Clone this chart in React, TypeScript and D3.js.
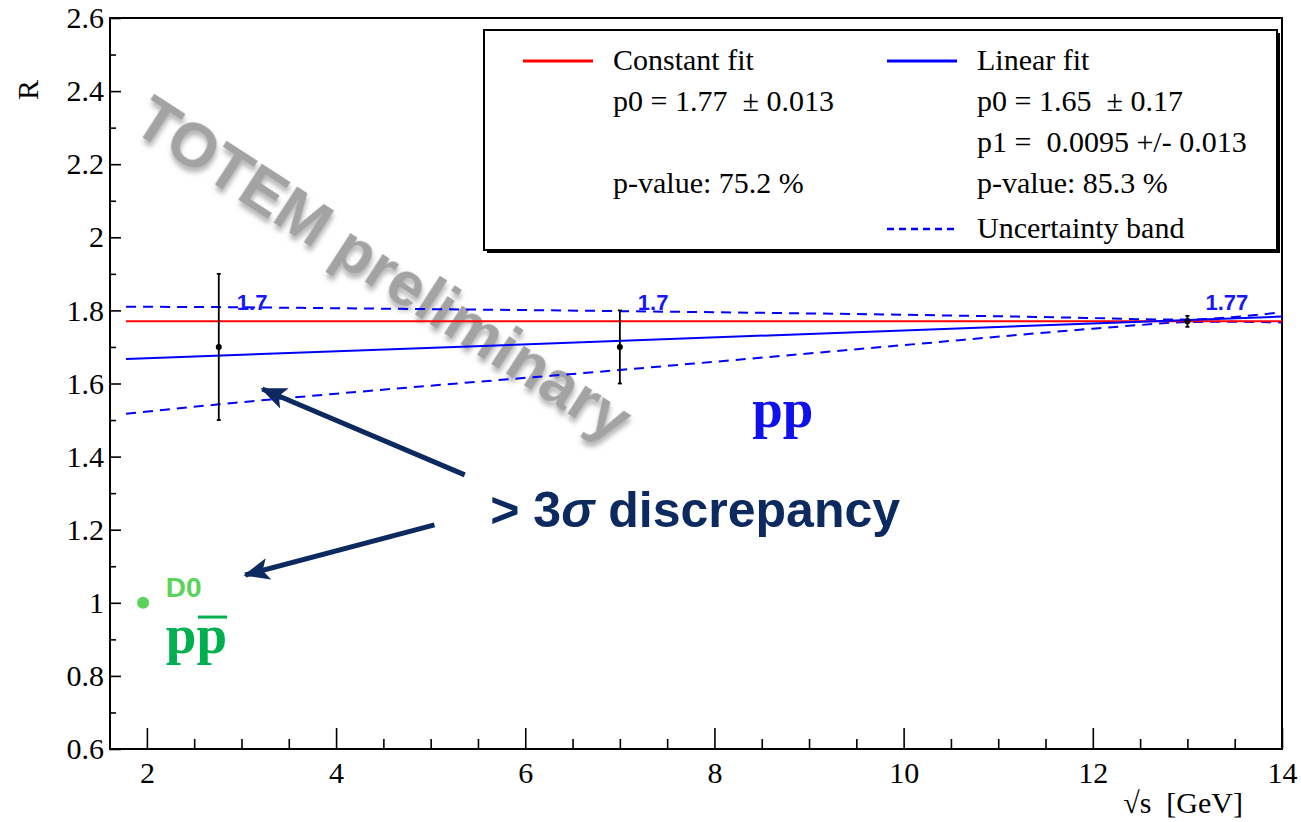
import React, { useEffect, useRef } from "react";
import * as d3 from "d3";

// measured points (sqrt(s) in TeV on the plot axis)
const energies = [2.76, 7, 13];
const ratios = [1.7, 1.7, 1.77];
const ratioErrors = [0.2, 0.1, 0.015];
const ratioLabels = ["1.7", "1.7", "1.77"];

const d0Energies = [1.96];
const d0Ratios = [1.0];

// fits
const fitEnergies = [1.78, 14];
const constantFit = [1.77, 1.77];
const linearFit = [1.667, 1.783];

// uncertainty band of the linear fit
const bandEnergies = [1.78, 2.76, 4, 7, 10, 12, 12.5, 13, 13.5, 14];
const bandUpper = [1.81, 1.809, 1.806, 1.798, 1.788, 1.779, 1.776, 1.775, 1.782, 1.795];
const bandLower = [1.517, 1.543, 1.572, 1.637, 1.705, 1.75, 1.76, 1.768, 1.769, 1.767];

const xTicks = [2, 4, 6, 8, 10, 12, 14];
const xTickLabels = ["2", "4", "6", "8", "10", "12", "14"];
const xMinorTicks = [2.5, 3, 3.5, 4.5, 5, 5.5, 6.5, 7, 7.5, 8.5, 9, 9.5, 10.5, 11, 11.5, 12.5, 13, 13.5];
const yTicks = [0.6, 0.8, 1, 1.2, 1.4, 1.6, 1.8, 2, 2.2, 2.4, 2.6];
const yTickLabels = ["0.6", "0.8", "1", "1.2", "1.4", "1.6", "1.8", "2", "2.2", "2.4", "2.6"];
const yMinorTicks = [0.7, 0.9, 1.1, 1.3, 1.5, 1.7, 1.9, 2.1, 2.3, 2.5];

const legendLeft = ["Constant fit", "p0 = 1.77  \u00b1 0.013", "", "p-value: 75.2 %"];
const legendRight = ["Linear fit", "p0 = 1.65  \u00b1 0.17", "p1 =  0.0095 +/- 0.013", "p-value: 85.3 %", "Uncertainty band"];

const W = 1301;
const H = 822;
const SERIF = "Liberation Serif, Times New Roman, DejaVu Serif, serif";
const SANS = "Liberation Sans, Arial, sans-serif";
const NAVY = "#0c2a60";

const App = () => {
  const ref = useRef<SVGSVGElement>(null);

  useEffect(() => {
    document.body.style.margin = "0";
    const svg = d3.select(ref.current);
    svg.selectAll("*").remove();

    const x = d3.scaleLinear().domain([1.61, 14]).range([110, 1282]);
    const y = d3.scaleLinear().domain([0.6, 2.6]).range([749, 18]);

    const defs = svg.append("defs");
    const shadow = defs.append("filter").attr("id", "wm").attr("x", "-20%").attr("y", "-20%").attr("width", "140%").attr("height", "140%");
    shadow.append("feDropShadow").attr("dx", 3).attr("dy", 4).attr("stdDeviation", 2.5).attr("flood-color", "#777").attr("flood-opacity", 0.55);
    defs.append("marker")
      .attr("id", "head")
      .attr("markerUnits", "userSpaceOnUse")
      .attr("viewBox", "0 0 26 22")
      .attr("markerWidth", 26)
      .attr("markerHeight", 22)
      .attr("refX", 24)
      .attr("refY", 11)
      .attr("orient", "auto")
      .append("path")
      .attr("d", "M0,0 L26,11 L0,22 L6,11 Z")
      .attr("fill", NAVY);

    // watermark
    svg.append("text")
      .attr("transform", `translate(384,268) rotate(33)`)
      .attr("text-anchor", "middle")
      .attr("dy", "0.35em")
      .attr("font-family", SANS)
      .attr("font-weight", "bold")
      .attr("font-size", 63)
      .attr("fill", "#a3a3a3")
      .attr("filter", "url(#wm)")
      .text("TOTEM preliminary");

    // axes
    const xAxis = svg.append("g").attr("transform", `translate(0,${y(0.6)})`);
    xAxis.call(d3.axisBottom(x).tickValues(xTicks).tickSize(-21).tickPadding(13).tickFormat((d, i) => xTickLabels[i]));
    const xMinor = svg.append("g").attr("transform", `translate(0,${y(0.6)})`);
    xMinor.call(d3.axisBottom(x).tickValues(xMinorTicks).tickSize(-10).tickFormat(() => ""));
    const yAxis = svg.append("g").attr("transform", `translate(${x(1.61)},0)`);
    yAxis.call(d3.axisLeft(y).tickValues(yTicks).tickSize(-11).tickPadding(6).tickFormat((d, i) => yTickLabels[i]));
    const yMinor = svg.append("g").attr("transform", `translate(${x(1.61)},0)`);
    yMinor.call(d3.axisLeft(y).tickValues(yMinorTicks).tickSize(-6).tickFormat(() => ""));
    svg.selectAll(".domain").remove();
    svg.selectAll(".tick line").attr("stroke", "#000").attr("stroke-width", 1.6);
    svg.selectAll(".tick text").attr("font-family", SERIF).attr("font-size", 30).attr("fill", "#000");

    // frame
    svg.append("rect")
      .attr("x", x(1.61)).attr("y", y(2.6))
      .attr("width", x(14) - x(1.61)).attr("height", y(0.6) - y(2.6))
      .attr("fill", "none").attr("stroke", "#000").attr("stroke-width", 2);

    svg.append("text")
      .attr("transform", `translate(38,90) rotate(-90)`)
      .attr("text-anchor", "middle")
      .attr("font-family", SERIF).attr("font-size", 30)
      .text("R");
    svg.append("text")
      .attr("x", 1243).attr("y", 813)
      .attr("text-anchor", "end")
      .attr("font-family", SERIF).attr("font-size", 30)
      .text("\u221as\u00a0\u00a0[GeV]");

    // uncertainty band
    const band = bandEnergies.map((e, i) => ({ e, u: bandUpper[i], l: bandLower[i] }));
    const bandUp = d3.line<any>().x((d) => x(d.e)).y((d) => y(d.u)).curve(d3.curveMonotoneX);
    const bandLo = d3.line<any>().x((d) => x(d.e)).y((d) => y(d.l)).curve(d3.curveMonotoneX);
    [bandUp, bandLo].forEach((gen) => {
      svg.append("path").attr("d", gen(band)).attr("fill", "none")
        .attr("stroke", "#0000ff").attr("stroke-width", 2).attr("stroke-dasharray", "10,7");
    });

    // fits
    const fitLine = d3.line<number>().x((d, i) => x(fitEnergies[i])).y((d) => y(d));
    svg.append("path").attr("d", fitLine(constantFit)).attr("fill", "none").attr("stroke", "#ff0000").attr("stroke-width", 2);
    svg.append("path").attr("d", fitLine(linearFit)).attr("fill", "none").attr("stroke", "#0000ff").attr("stroke-width", 2);

    // data points with error bars
    const pts = energies.map((e, i) => ({ e, r: ratios[i], err: ratioErrors[i], lab: ratioLabels[i] }));
    const pg = svg.append("g");
    pts.forEach((p) => {
      pg.append("line").attr("x1", x(p.e)).attr("x2", x(p.e)).attr("y1", y(p.r - p.err)).attr("y2", y(p.r + p.err))
        .attr("stroke", "#000").attr("stroke-width", 1.8);
      [p.r - p.err, p.r + p.err].forEach((v) => {
        pg.append("line").attr("x1", x(p.e) - 2).attr("x2", x(p.e) + 2).attr("y1", y(v)).attr("y2", y(v))
          .attr("stroke", "#000").attr("stroke-width", 1.8);
      });
      pg.append("circle").attr("cx", x(p.e)).attr("cy", y(p.r)).attr("r", 3).attr("fill", "#000");
      pg.append("text").attr("x", x(p.e) + 18).attr("y", y(1.8))
        .attr("font-family", SANS).attr("font-weight", "bold").attr("font-size", 22).attr("fill", "#1515ff")
        .text(p.lab);
    });

    // D0 point
    svg.selectAll(".d0").data(d0Energies).enter().append("circle")
      .attr("cx", (d) => x(d)).attr("cy", (d, i) => y(d0Ratios[i])).attr("r", 6).attr("fill", "#5ad35a");
    svg.append("text").attr("x", x(2.2)).attr("y", y(1.015))
      .attr("font-family", SANS).attr("font-weight", "bold").attr("font-size", 28).attr("fill", "#5ad35a")
      .text("D0");

    // annotations
    svg.append("text").attr("x", x(8.4)).attr("y", y(1.48))
      .attr("font-family", SERIF).attr("font-weight", "bold").attr("font-size", 55).attr("fill", "#1010ee")
      .text("pp");
    svg.append("text").attr("x", x(2.2)).attr("y", y(0.862))
      .attr("font-family", SERIF).attr("font-weight", "bold").attr("font-size", 55).attr("fill", "#00b050")
      .text("pp");
    svg.append("line").attr("x1", 198).attr("x2", 227).attr("y1", y(0.961)).attr("y2", y(0.961))
      .attr("stroke", "#00b050").attr("stroke-width", 3);

    const disc = svg.append("text").attr("x", x(5.63)).attr("y", y(1.207))
      .attr("font-family", SANS).attr("font-weight", "bold").attr("font-size", 50).attr("fill", NAVY);
    disc.append("tspan").text("> 3");
    disc.append("tspan").attr("font-style", "italic").text("\u03c3");
    disc.append("tspan").text(" discrepancy");

    const arrows = [
      { from: [5.36, 1.35], to: [3.22, 1.585] },
      { from: [5.04, 1.213], to: [3.04, 1.076] },
    ];
    arrows.forEach((a) => {
      svg.append("line")
        .attr("x1", x(a.from[0])).attr("y1", y(a.from[1]))
        .attr("x2", x(a.to[0])).attr("y2", y(a.to[1]))
        .attr("stroke", NAVY).attr("stroke-width", 5)
        .attr("marker-end", "url(#head)");
    });

    // legend
    const lg = svg.append("g");
    lg.append("rect").attr("x", 487).attr("y", 33).attr("width", 793).attr("height", 220).attr("fill", "#000");
    lg.append("rect").attr("x", 484).attr("y", 30).attr("width", 793).attr("height", 220)
      .attr("fill", "#fff").attr("stroke", "#000").attr("stroke-width", 2);
    lg.append("line").attr("x1", 523).attr("x2", 593).attr("y1", 61).attr("y2", 61).attr("stroke", "#ff0000").attr("stroke-width", 3);
    lg.append("line").attr("x1", 887).attr("x2", 957).attr("y1", 61).attr("y2", 61).attr("stroke", "#0000ff").attr("stroke-width", 3);
    lg.append("line").attr("x1", 887).attr("x2", 957).attr("y1", 229).attr("y2", 229).attr("stroke", "#0000ff")
      .attr("stroke-width", 2.5).attr("stroke-dasharray", "7,5");
    const rowY = [70, 111, 152, 193, 238];
    legendLeft.forEach((t, i) => {
      lg.append("text").attr("x", 613).attr("y", rowY[i]).attr("font-family", SERIF).attr("font-size", 30)
        .style("white-space", "pre").text(t);
    });
    legendRight.forEach((t, i) => {
      lg.append("text").attr("x", 977).attr("y", rowY[i]).attr("font-family", SERIF).attr("font-size", 30)
        .style("white-space", "pre").text(t);
    });
  }, []);

  return <svg ref={ref} width={W} height={H} style={{ display: "block", background: "#fff" }} />;
};

export default App;
